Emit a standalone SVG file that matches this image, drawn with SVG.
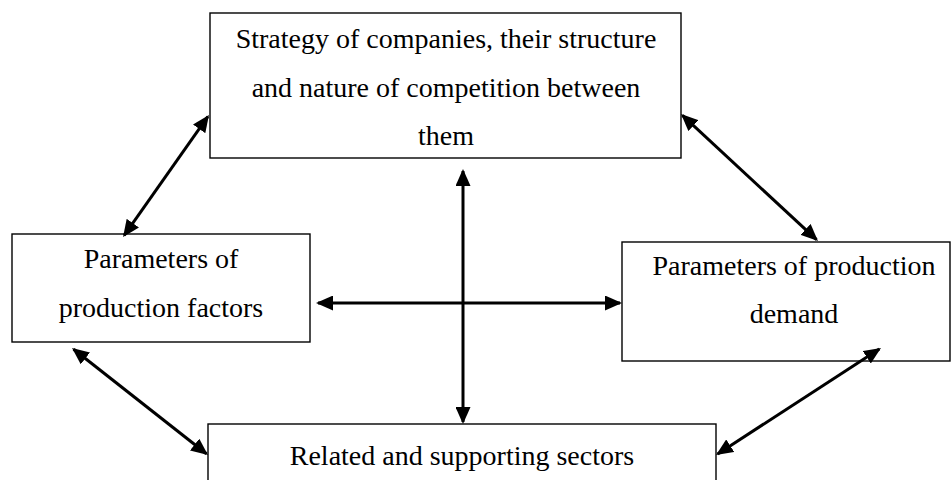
<svg xmlns="http://www.w3.org/2000/svg" width="952" height="480" viewBox="0 0 952 480">
<style>
.box{fill:#fff;stroke:#000;stroke-width:1.4}
.t{font-size:28px;fill:#000;text-anchor:middle}
.c{stroke:#000;stroke-width:3;fill:none;marker-start:url(#ah);marker-end:url(#ah)}
</style>
<defs>
<marker id="ah" markerUnits="userSpaceOnUse" markerWidth="17" markerHeight="15" viewBox="0 0 17 15" refX="15" refY="7.5" orient="auto-start-reverse">
<path d="M0,0 L17,7.5 L0,15 z" fill="#000"/>
</marker>
</defs>
<rect width="952" height="480" fill="#fff"/>
<g font-family="'Liberation Serif', 'Times New Roman', 'DejaVu Serif', serif">
<g id="strategy">
<rect class="box" x="210" y="13" width="471" height="145"/>
<text class="t" x="446" y="48">Strategy of companies, their structure</text>
<text class="t" x="446" y="97">and nature of competition between</text>
<text class="t" x="446" y="145">them</text>
</g>
<g id="factors">
<rect class="box" x="12" y="234" width="298" height="108"/>
<text class="t" x="161" y="268">Parameters of</text>
<text class="t" x="161" y="317">production factors</text>
</g>
<g id="demand">
<rect class="box" x="622" y="242" width="328" height="119"/>
<text class="t" x="794" y="275">Parameters of production</text>
<text class="t" x="794" y="323">demand</text>
</g>
<g id="sectors">
<rect class="box" x="208" y="424" width="508" height="80"/>
<text class="t" x="462" y="465">Related and supporting sectors</text>
</g>
</g>
<g id="connectors">
<line class="c" x1="207.8" y1="116.6" x2="124.2" y2="235.4"/>
<line class="c" x1="682.5" y1="115.4" x2="816.5" y2="239.6"/>
<line class="c" x1="318" y1="303" x2="620" y2="303"/>
<line class="c" x1="463" y1="171" x2="463" y2="422"/>
<line class="c" x1="73.6" y1="349.2" x2="206.4" y2="453.8"/>
<line class="c" x1="879.3" y1="349.1" x2="717.7" y2="453.9"/>
</g>
</svg>
